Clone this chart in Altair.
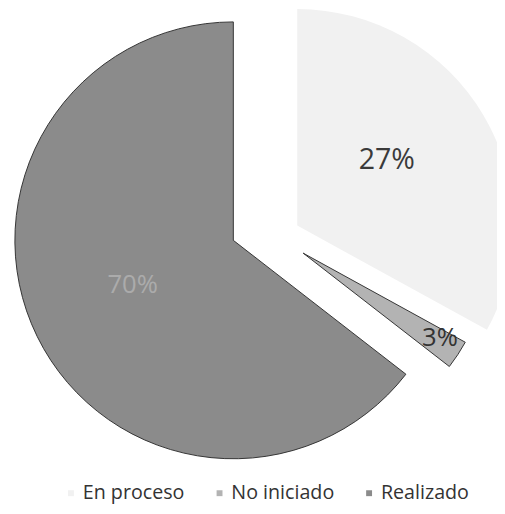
import altair as alt
import pandas as pd

# Data
categories = ["En proceso", "No iniciado", "Realizado"]
labels = ["27%", "3%", "70%"]
# angular share of each slice as drawn in the picture (percent of full circle)
shares = [33.0, 2.5, 64.5]
order = [0, 1, 2]

colors = ["#f1f1f1", "#b3b3b3", "#8b8b8b"]

df = pd.DataFrame({"category": categories, "share": shares, "label": labels, "order": order})

base = alt.Chart(df).transform_window(
    end="sum(share)", sort=[alt.SortField("order")], frame=[None, 0]
).transform_calculate(
    start="datum.end - datum.share", mid="datum.end - datum.share / 2"
)

theta_scale = alt.Scale(domain=[0, 100])
color = alt.Color(
    "category:N",
    scale=alt.Scale(domain=categories, range=colors),
    legend=alt.Legend(
        orient="none", legendX=54, legendY=479, direction="horizontal",
        title=None, symbolType="square", symbolSize=36, symbolStrokeWidth=0,
        labelFont="Open Sans", labelFontSize=20, labelColor="#333333",
        labelOffset=2, columnPadding=25, padding=0,
    ),
)


def arc(cat, cx, cy, r, **kw):
    return base.transform_filter(alt.datum.category == cat).mark_arc(
        outerRadius=r, **kw
    ).encode(
        theta=alt.Theta("start:Q", scale=theta_scale),
        theta2="end:Q",
        color=color,
        x=alt.value(cx),
        y=alt.value(cy),
    )


def lab(cat, cx, cy, r, size, col, dx=0, dy=0):
    return base.transform_filter(alt.datum.category == cat).mark_text(
        radius=r, fontSize=size, color=col, font="Open Sans", dx=dx, dy=dy
    ).encode(
        theta=alt.Theta("mid:Q", scale=theta_scale),
        text="label:N",
        x=alt.value(cx),
        y=alt.value(cy),
    )


chart = alt.layer(
    arc("Realizado", 229, 232, 222, stroke="#333333", strokeWidth=1),
    arc("En proceso", 294, 217, 220, strokeWidth=0),
    arc("No iniciado", 300, 245, 188, stroke="#333333", strokeWidth=1),
    lab("En proceso", 294, 217, 108, 29, "#3a3a3a", dx=-2, dy=-12),
    lab("No iniciado", 300, 245, 158, 26, "#333333", dx=7),
    lab("Realizado", 229, 232, 114, 26, "#ababab", dy=-5),
).properties(
    width=497, height=506, autosize=alt.AutoSizeParams(type="none"), padding=0
).configure_view(stroke=None)

chart.save("out.html", embed_options={"renderer": "svg", "actions": False})
